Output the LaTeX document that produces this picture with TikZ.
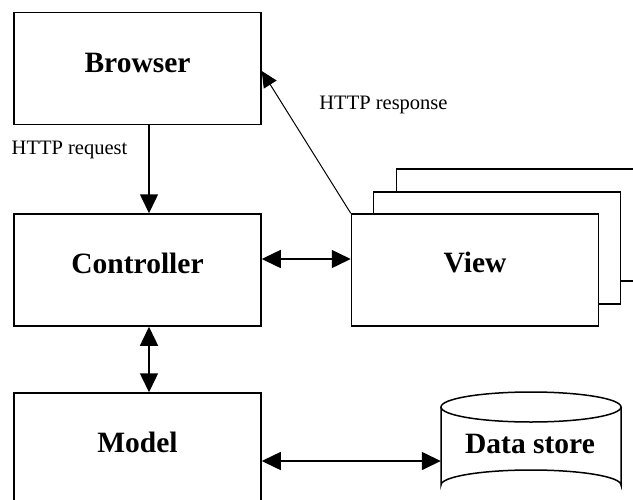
\documentclass[tikz,border=0pt]{standalone}
\usepackage{fontspec}
\setmainfont{Liberation Serif}
\usetikzlibrary{arrows.meta,calc}

\begin{document}
\begin{tikzpicture}[x=1pt,y=-1pt,
  box/.style={draw, line width=1.5pt, fill=white, minimum width=247pt,
    minimum height=112pt, inner sep=0pt},
  boxlabel/.style={font=\fontsize{29.5}{34}\selectfont\bfseries, anchor=base,
    inner sep=0pt},
  note/.style={font=\fontsize{20.5}{25}\selectfont, anchor=base, inner sep=0pt},
  twoway/.style={line width=1.5pt, {Triangle[length=19pt,width=18pt]}-{Triangle[length=19pt,width=18pt]}},
  oneway/.style={line width=1.5pt, -{Triangle[length=19pt,width=18pt]}},
  reply/.style={line width=1pt, -{Triangle[length=16pt,width=15pt]}}]

\clip (0,0) rectangle (633,499);

% left column
\node[box] (browser) at (137.5,68.5) {};
\node[box] (ctrl)    at (137.5,270) {};
\node[box] (model)   at (137.5,449) {};

% stacked views, back to front
\node[box] (view3) at (520,225) {};
\node[box] (view2) at (497,248) {};
\node[box] (view)  at (475,270) {};

% data store cylinder
\node[minimum width=180pt, minimum height=108pt, inner sep=0pt] (store) at (531,446) {};
\draw[line width=1.5pt, fill=white]
  (441,407) -- (441,485) arc[start angle=180, end angle=360, x radius=90, y radius=15]
  -- (621,407);
\draw[line width=1.5pt, fill=white] (531,407) ellipse[x radius=90, y radius=15];

% box captions
\node[boxlabel] (browser-t) at ($(browser.center)+(0,3.5)$) {Browser};
\node[boxlabel] (ctrl-t)    at ($(ctrl.center)+(0,3)$) {Controller};
\node[boxlabel] (model-t)   at ($(model.center)+(0,3)$) {Model};
\node[boxlabel] (view-t)    at ($(view.center)+(0,2)$) {View};
\node[boxlabel] (store-t)   at (530,453) {Data store};

% connector captions
\node[note] (req)  at (69.5,154) {HTTP request};
\node[note] (resp) at (383.5,109) {HTTP response};

% connectors
\coordinate (bc) at ($(browser.south)+(11.5,0)$);
\draw[oneway] (bc) -- (bc |- ctrl.north);

\coordinate (cm) at ($(ctrl.south)+(11.5,0)$);
\draw[twoway] (cm) -- (cm |- model.north);

\coordinate (cv) at ($(ctrl.east)+(0,-11)$);
\draw[twoway] (cv) -- (cv -| view.west);

\coordinate (ms) at ($(model.east)+(0,12)$);
\draw[twoway] (ms) -- (ms -| store.west);

\coordinate (vb) at ($(browser.east)+(0,2.5)$);
\draw[reply] (view.north west) -- (vb);

\end{tikzpicture}
\end{document}
